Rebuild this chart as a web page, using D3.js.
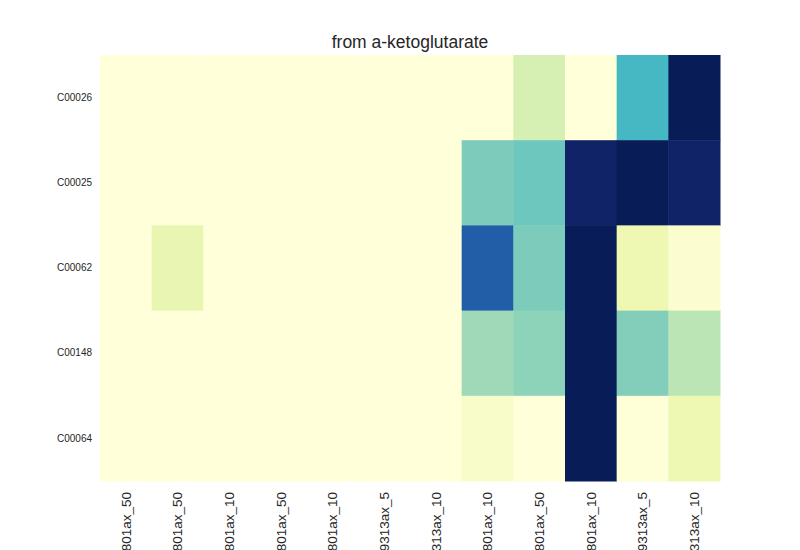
<!DOCTYPE html>
<html>
<head>
<meta charset="utf-8">
<script src="https://cdn.jsdelivr.net/npm/d3@7"></script>
<style>
  html, body { margin: 0; padding: 0; background: #fff; }
  svg { display: block; }
  text { font-family: "Liberation Sans", Arial, sans-serif; fill: #262626; }
</style>
</head>
<body>
<svg id="chart" width="800" height="550"></svg>
<script>
// ---- data ----
const title = "from a-ketoglutarate";
const rows = ["C00026", "C00025", "C00062", "C00148", "C00064"];
const columns = [
  "MG00801ax_50", "MG10801ax_50", "MG00801ax_10", "MG20801ax_50", "MG10801ax_10", "MG09313ax_5",
  "MG09313ax_10", "MG20801ax_10", "MG30801ax_50", "MG30801ax_10", "MG19313ax_5", "MG19313ax_10"
];
const valC00026 = [0, 0, 0, 0, 0, 0, 0, 0, 0.20, 0, 0.49, 1.00];
const valC00025 = [0, 0, 0, 0, 0, 0, 0, 0.38, 0.41, 0.97, 1.00, 0.97];
const valC00062 = [0, 0.14, 0, 0, 0, 0, 0, 0.75, 0.38, 1.00, 0.12, 0.03];
const valC00148 = [0, 0, 0, 0, 0, 0, 0, 0.32, 0.35, 1.00, 0.37, 0.27];
const valC00064 = [0, 0, 0, 0, 0, 0, 0, 0.05, 0, 1.00, 0.005, 0.12];
const matrix = [valC00026, valC00025, valC00062, valC00148, valC00064];
const ylgnbu = ["#ffffd9", "#edf8b1", "#c7e9b4", "#7fcdbb", "#41b6c4", "#1d91c0", "#225ea8", "#253494", "#081d58"];

// ---- layout ----
const svg = d3.select("#chart");
const margin = { left: 100, right: 80, top: 55, bottom: 69 };
const W = 800, H = 550;

const x = d3.scaleBand().domain(d3.range(columns.length)).range([margin.left, W - margin.right]).padding(0);
const y = d3.scaleBand().domain(rows).range([margin.top, H - margin.bottom]).padding(0);
const color = d3.scaleLinear()
  .domain(ylgnbu.map((c, i) => i / (ylgnbu.length - 1)))
  .range(ylgnbu)
  .interpolate(d3.interpolateRgb)
  .clamp(true);

const cells = [];
matrix.forEach((vals, r) => vals.forEach((v, c) => cells.push({ row: rows[r], col: c, v })));

svg.append("g").selectAll("rect").data(cells).join("rect")
  .attr("x", d => x(d.col))
  .attr("y", d => y(d.row))
  .attr("width", x.bandwidth() + 0.5)
  .attr("height", y.bandwidth() + 0.5)
  .attr("fill", d => color(d.v));

// y axis labels
const yAxis = d3.axisLeft(y).tickSize(0).tickPadding(8);
const gy = svg.append("g").attr("transform", `translate(${margin.left},0)`).call(yAxis);
gy.select(".domain").remove();
gy.selectAll("text").style("font-size", "10px").style("font-family", "Liberation Sans, Arial, sans-serif").attr("fill", "#262626");

// x axis labels
const xAxis = d3.axisBottom(x).tickSize(0).tickFormat(i => columns[i]);
const gx = svg.append("g").attr("transform", `translate(0,${H - margin.bottom})`).call(xAxis);
gx.select(".domain").remove();
gx.selectAll("text")
  .style("font-size", "13.5px")
  .style("font-family", "Liberation Sans, Arial, sans-serif")
  .attr("fill", "#262626")
  .attr("text-anchor", "end")
  .attr("transform", "rotate(-90)")
  .attr("x", -11)
  .attr("y", 0)
  .attr("dy", "0.35em");

// title
svg.append("text")
  .attr("x", (margin.left + W - margin.right) / 2)
  .attr("y", 48)
  .attr("text-anchor", "middle")
  .style("font-size", "17.5px")
  .text(title);
</script>
</body>
</html>
